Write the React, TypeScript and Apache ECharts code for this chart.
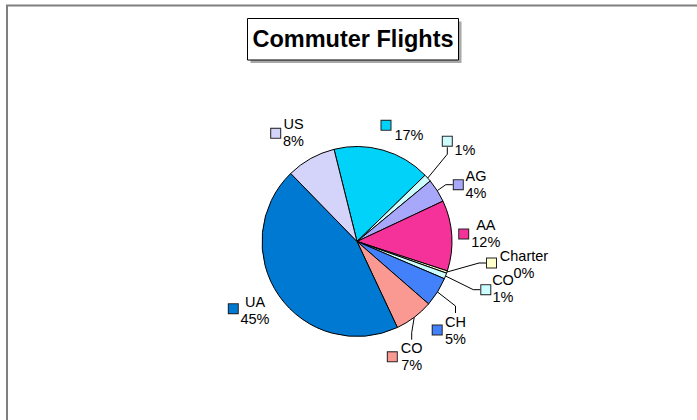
import React, { useEffect, useRef } from 'react';
import * as echarts from 'echarts';

// ---- data ----
const categories = ['', '', 'AG', 'AA', 'Charter', 'CO', 'CH', 'CO', 'UA', 'US'];
const shares = [16.6, 1.3, 4.0, 12.0, 0.4, 1.0, 5.0, 6.6, 44.7, 8.4];
const sliceColors = ['#00D2FA', '#CCFCFC', '#A8A8FA', '#F5329A', '#FFFFCC', '#CCFFFF', '#4281FA', '#FA9892', '#0079D2', '#D4D4FA'];
const titleText = 'Commuter Flights';

// ---- label layout (placement only) ----
const textPos: number[][] = [
  [409, 126.5], [465, 141.5], [476, 184.8], [485.8, 233.3], [524, 264.5],
  [503, 288.3], [455.5, 330], [411.7, 356.7], [255, 310.8], [293.5, 132.5],
];
const keyPos: number[][] = [
  [386, 125.3], [447.3, 141.2], [458.3, 184.7], [463.7, 234], [491.5, 263],
  [485.8, 289.7], [437.2, 330], [392.3, 356.8], [233.3, 308.7], [275.7, 133.3],
];
const textLeader = [false, false, false, false, false, false, true, true, false, false];
const keyLeader = [false, true, true, false, true, true, false, false, false, false];

const FONT = "'Liberation Sans', Arial, sans-serif";

export default function App() {
  const ref = useRef<HTMLDivElement>(null);
  useEffect(() => {
    if (!ref.current) return;
    const chart = echarts.init(ref.current, undefined, { renderer: 'svg' });
    const total = shares.reduce((a, b) => a + b, 0);
    const rich: Record<string, any> = {};
    sliceColors.forEach((c, i) => {
      rich['k' + i] = { width: 9, height: 9, lineHeight: 10, backgroundColor: c, borderColor: '#222', borderWidth: 1 };
    });
    const center = [357, 241.5];
    const radius = 95;
    const startAngle = 104;
    const option: any = {
      animation: false,
      textStyle: { fontFamily: FONT },
      title: {
        text: titleText,
        left: 353,
        top: 39,
        textAlign: 'center',
        textVerticalAlign: 'middle',
        padding: 0,
        textStyle: { fontFamily: FONT, fontSize: 23.5, fontWeight: 'bold', color: '#000' },
      },
      graphic: [
        { type: 'rect', z: 0, shape: { x: 7, y: 5.5, width: 720, height: 440 }, style: { fill: 'none', stroke: '#7f7f7f', lineWidth: 2 } },
        { type: 'rect', z: 1, shape: { x: 250.5, y: 21.5, width: 211, height: 41.5 }, style: { fill: '#a8a8a8' } },
        { type: 'rect', z: 2, shape: { x: 247.5, y: 18.5, width: 211, height: 41.5 }, style: { fill: '#fff', stroke: '#000', lineWidth: 1 } },
      ],
      series: [
        {
          type: 'pie',
          silent: true,
          center,
          radius,
          startAngle,
          clockwise: true,
          avoidLabelOverlap: false,
          emphasis: { disabled: true },
          itemStyle: { borderColor: '#000', borderWidth: 1 },
          label: {
            show: true,
            position: 'outside',
            fontFamily: FONT,
            fontSize: 14.5,
            lineHeight: 17,
            color: '#000',
            formatter: (p: any) => {
              const pct = Math.round((p.value / total) * 100);
              return (p.name ? p.name : '') + '\n' + pct + '%';
            },
          },
          labelLine: { show: true, length: 6, length2: 7, lineStyle: { color: '#000', width: 1 } },
          labelLayout: (p: any) => {
            const [x, y] = textPos[p.dataIndex];
            return { x, y, align: 'center', verticalAlign: 'middle', hideOverlap: false };
          },
          data: shares.map((v, i) => ({
            value: v,
            name: categories[i],
            itemStyle: { color: sliceColors[i] },
            labelLine: { show: textLeader[i] },
          })),
        },
        {
          type: 'pie',
          silent: true,
          center,
          radius,
          startAngle,
          clockwise: true,
          avoidLabelOverlap: false,
          emphasis: { disabled: true },
          itemStyle: { color: 'rgba(0,0,0,0)', borderWidth: 0 },
          label: {
            show: true,
            position: 'outside',
            formatter: (p: any) => '{k' + p.dataIndex + '|}',
            rich,
          },
          labelLine: { show: true, length: 6, length2: 7, lineStyle: { color: '#000', width: 1 } },
          labelLayout: (p: any) => {
            const [x, y] = keyPos[p.dataIndex];
            return { x, y, align: 'center', verticalAlign: 'middle', hideOverlap: false };
          },
          data: shares.map((v, i) => ({
            value: v,
            name: 'key' + i,
            labelLine: { show: keyLeader[i] },
          })),
        },
      ],
    };
    chart.setOption(option);
    return () => chart.dispose();
  }, []);
  return (
    <div
      ref={ref}
      style={{ position: 'fixed', left: 0, top: 0, width: 697, height: 420, background: '#fff' }}
    />
  );
}
